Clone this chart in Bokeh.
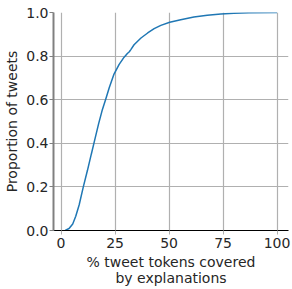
from bokeh.plotting import figure
from bokeh.models import Range1d, FixedTicker, PrintfTickFormatter
from bokeh.embed import file_html
from bokeh.resources import INLINE

# ECDF: % tweet tokens covered vs proportion of tweets
pct_covered = [1.9, 3.7, 5.4, 6.8, 8.4, 10.3, 12.2, 14.0, 15.7, 17.4, 19.0, 20.6,
               22.3, 24.4, 26.9, 29.2, 30.7, 31.6, 32.3, 33.8, 37.0, 40.1, 43.1,
               46.2, 50.3, 55.4, 61.5, 67.7, 74.0, 80.0, 87.0, 100.0]
proportion = [0.0, 0.009, 0.03, 0.065, 0.118, 0.2, 0.275, 0.35, 0.42, 0.49, 0.55,
              0.60, 0.655, 0.715, 0.762, 0.795, 0.812, 0.82, 0.83, 0.852, 0.883,
              0.906, 0.926, 0.941, 0.955, 0.967, 0.979, 0.987, 0.993, 0.997, 0.999, 1.0]
x_ticks = [0, 25, 50, 75, 100]
y_ticks = [0.0, 0.2, 0.4, 0.6, 0.8, 1.0]

FONT = "DejaVu Sans"

p = figure(width=292, height=289, output_backend="svg", toolbar_location=None,
           x_range=Range1d(-3.5, 105.3), y_range=Range1d(0, 1),
           min_border_top=12, min_border_right=4, min_border_left=53,
           min_border_bottom=56)
p.outline_line_color = None
p.background_fill_color = "white"

p.line(pct_covered, proportion, line_color="#1f77b4", line_width=1.5)

for ax in (p.xaxis[0], p.yaxis[0]):
    ax.major_label_text_font = FONT
    ax.major_label_text_font_size = "14px"
    ax.major_label_text_color = "#262626"
    ax.major_label_text_line_height = 1.0
    ax.axis_label_text_font = FONT
    ax.axis_label_text_font_size = "14px"
    ax.axis_label_text_font_style = "normal"
    ax.axis_label_text_color = "#262626"
    ax.axis_label_text_line_height = 1.05
    ax.minor_tick_line_color = None
    ax.major_tick_in = 0
    ax.major_tick_out = 4

p.xaxis.ticker = FixedTicker(ticks=x_ticks)
p.yaxis.ticker = FixedTicker(ticks=y_ticks)
p.yaxis.formatter = PrintfTickFormatter(format="%.1f")

p.xaxis.axis_label = "% tweet tokens covered\nby explanations"
p.yaxis.axis_label = "Proportion of tweets"

p.xaxis.axis_line_color = "black"
p.xaxis.axis_line_width = 1.2
p.xaxis.major_tick_line_color = "#b0b0b0"
p.xaxis.major_label_standoff = 3
p.xaxis.axis_label_standoff = 3

p.yaxis.axis_line_color = "#808080"
p.yaxis.axis_line_width = 2
p.yaxis.major_tick_line_color = "#808080"
p.yaxis.major_label_standoff = 1
p.yaxis.axis_label_standoff = 3

p.xgrid.grid_line_color = "#b0b0b0"
p.ygrid.grid_line_color = "#b0b0b0"
p.xgrid.grid_line_width = 1.2
p.ygrid.grid_line_width = 1.2

open("out.html", "w").write(file_html(p, INLINE))
